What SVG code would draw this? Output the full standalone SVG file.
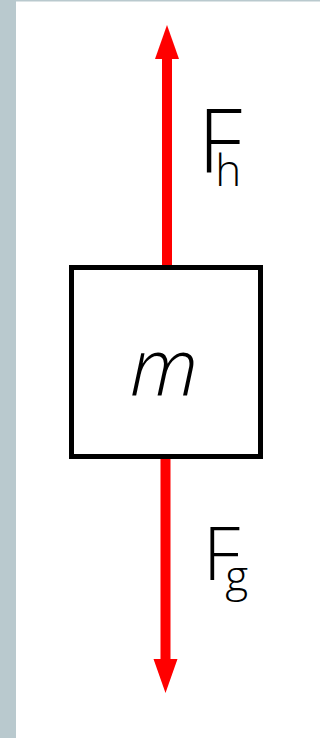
<svg xmlns="http://www.w3.org/2000/svg" width="320" height="738" viewBox="0 0 320 738">
  <defs>
    <style>
      .frame { fill: #b9c9ce; }
      .shaft { stroke: #ff0000; stroke-width: 10; fill: none; }
      .box { fill: #ffffff; stroke: #000000; stroke-width: 5; }
      .lbl { font-family: "Open Sans", "Liberation Sans", sans-serif; font-weight: 300; fill: #000000; }
    </style>
    <marker id="head" markerUnits="userSpaceOnUse" markerWidth="40" markerHeight="30" refX="0" refY="12" orient="auto" viewBox="0 0 40 24">
      <path d="M0,0 L34,12 L0,24 Z" fill="#ff0000"/>
    </marker>
  </defs>
  <rect width="320" height="738" fill="#ffffff"/>
  <rect class="frame" x="0" y="0" width="16" height="738"/>
  <rect class="frame" x="0" y="0" width="320" height="1.5"/>

  <g id="connectors">
    <g id="force-h">
      <line class="shaft" x1="167" y1="265" x2="167" y2="59" marker-end="url(#head)"/>
      <text class="lbl" x="198" y="172" font-size="88">F<tspan dx="-27" dy="14" font-size="44">h</tspan></text>
    </g>
    <g id="force-g">
      <line class="shaft" x1="165.5" y1="459" x2="165.5" y2="659" marker-end="url(#head)"/>
      <text class="lbl" x="203" y="580" font-size="74">F<tspan dx="-15" dy="12" font-size="44">g</tspan></text>
    </g>
  </g>

  <g id="mass">
    <rect class="box" x="71.5" y="267.5" width="189" height="189"/>
    <text class="lbl" x="164" y="396" font-size="80" text-anchor="middle" font-style="italic">m</text>
  </g>
</svg>
